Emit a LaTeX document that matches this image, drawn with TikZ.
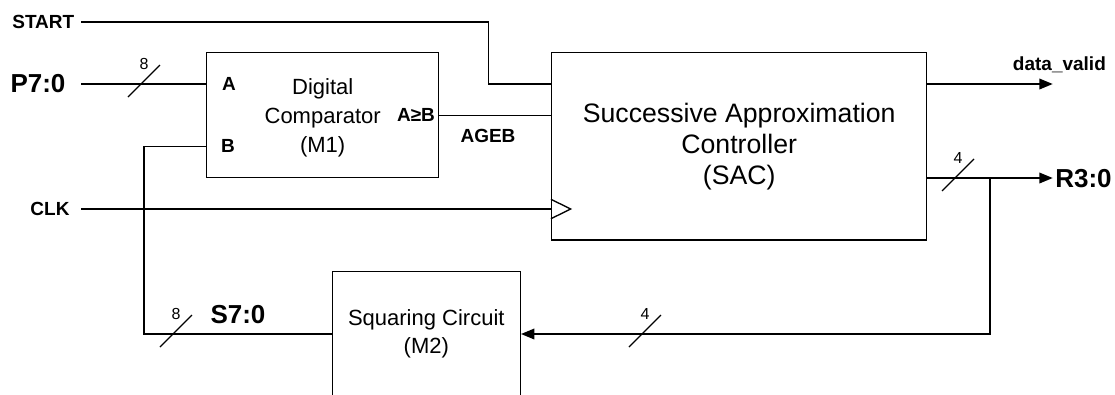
\documentclass[tikz,border=0pt]{standalone}
\usepackage{fontspec}
\setmainfont{Liberation Sans}
\usetikzlibrary{arrows.meta}

% bus-width marker: slash across a wire at (#1,#2) with the width #3 above it
\newcommand\busmark[4]{%
  \draw[busline] (#1-13,#2+13) -- (#1+19,#2-19);
  \node[busnum] (#4) at (#1+3,#2-20) {#3};}

\begin{document}
\begin{tikzpicture}[x=0.75pt,y=-0.75pt,
  box/.style={draw,line width=1.1pt,inner sep=0pt,align=center},
  wire/.style={line width=1.1pt},
  arr/.style={-{Triangle[length=10pt,width=8pt]}},
  busline/.style={line width=0.9pt},
  busnum/.style={font=\fontsize{12}{14}\selectfont,inner sep=0pt},
  sig/.style={font=\bfseries\fontsize{14.25}{16}\selectfont,inner sep=0pt},
  bigsig/.style={font=\bfseries\fontsize{19.5}{22}\selectfont,inner sep=0pt}]

\useasboundingbox (0,0) rectangle (1115,394);
\fill[white] (0,0) rectangle (1115,394);
\clip (0,0) rectangle (1115,394);

% blocks
\node[box,minimum width=174pt,minimum height=93.45pt] (cmp) at (322.7,115) {};
\node[align=center,inner sep=0pt,font=\fontsize{16.5}{21.75}\selectfont]
      (cmptext) at (322.7,118) {Digital\\Comparator\\(M1)};
\node[box,minimum width=281.25pt,minimum height=140.5pt,
      font=\fontsize{20}{23.25}\selectfont] (sac) at (739.2,146.35)
      {Successive Approximation\\Controller\\(SAC)};
\node[box,minimum width=141pt,minimum height=93.45pt,
      font=\fontsize{16.5}{21}\selectfont] (sq) at (426.3,334)
      {Squaring Circuit\\(M2)};

% port labels
\node[sig] (pa) at (229,84) {A};
\node[sig] (pb) at (228,145.5) {B};
\node[sig,anchor=base] (pge) at (416,121) {A≥B};

% signal names
\node[sig] (start) at (43.3,21.5) {START};
\node[bigsig] (p) at (38,84) {P7:0};
\node[sig] (clk) at (50,208.5) {CLK};
\node[sig] (ageb) at (488,136) {AGEB};
\node[bigsig] (s) at (238,314.5) {S7:0};
\node[sig,anchor=base] (dv) at (1059.4,70.5) {data\_valid};
\node[bigsig,anchor=west] (r) at (1055,178.7) {R3:0};

% wire end points
\coordinate (startin) at (81,22);
\coordinate (pin) at (81,84);
\coordinate (clkin) at (81,209);
\coordinate (dvout) at (1052.7,84);
\coordinate (rout) at (1052.7,178);
\coordinate (tap) at (990,178);

% connections
\draw[wire] (startin) -| (488.7,84) -- (sac.west |- 0,84);
\draw[wire] (pin) -- (cmp.west |- pin);
\draw[wire] (cmp.east |- 0,115.3) -- (sac.west |- 0,115.3);
\draw[wire] (cmp.west |- 0,146.7) -| (144,334) -- (sq.west);
\draw[wire] (clkin) -- (sac.west |- clkin);
\draw[wire,arr] (sac.east |- dvout) -- (dvout);
\draw[wire,arr] (sac.east |- rout) -- (rout);
\draw[wire,arr] (tap) |- (sq.east);

% clock input marker
\draw[line width=1pt] (sac.west |- 0,199.3) -- (570.7,209) -- (sac.west |- 0,218.7);

% bus widths
\busmark{141}{84}{8}{wp}
\busmark{955}{178}{4}{wr}
\busmark{642}{334}{4}{wf}
\busmark{173}{334}{8}{ws}
\end{tikzpicture}
\end{document}
